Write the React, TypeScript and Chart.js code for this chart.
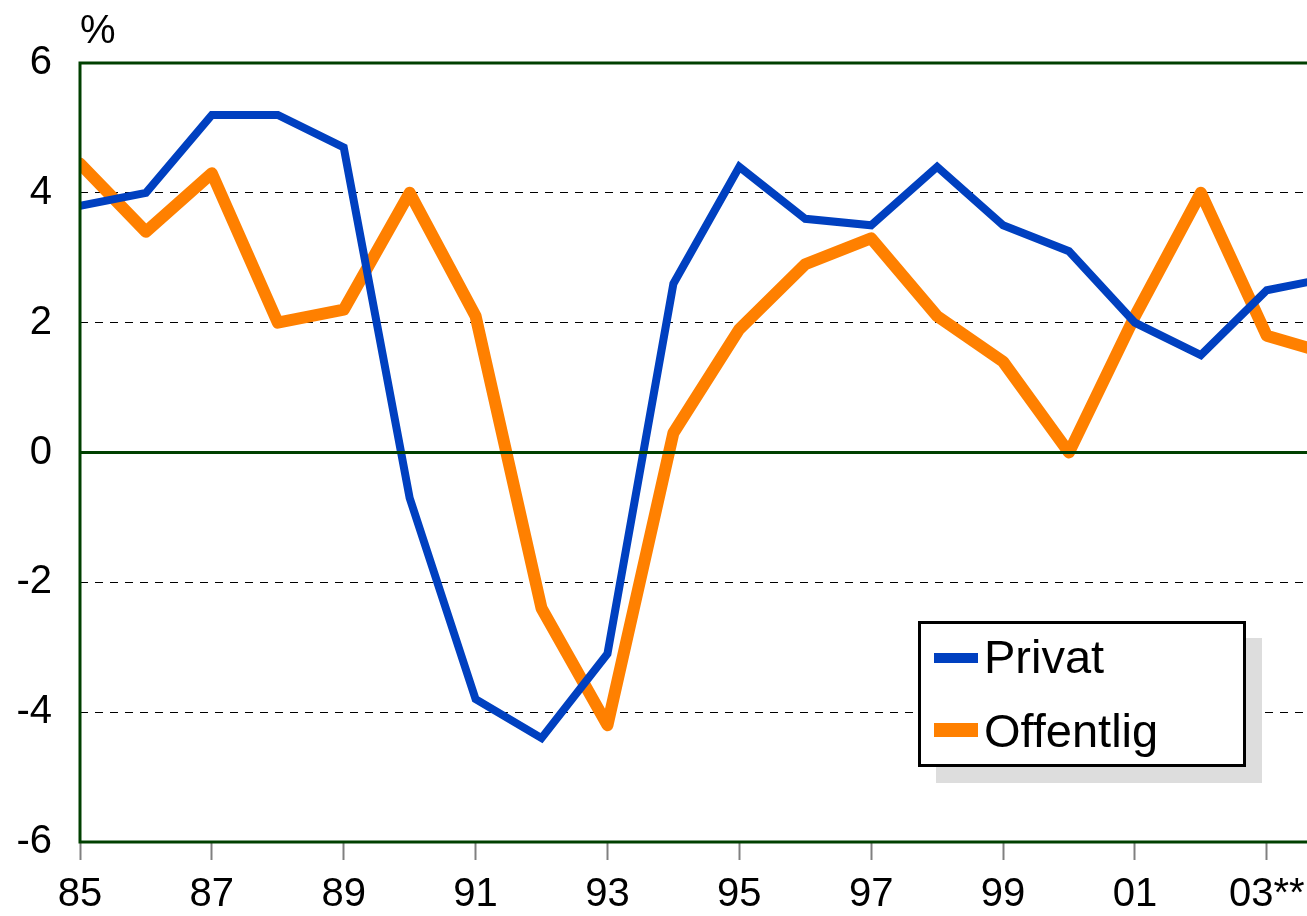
import React, { useEffect, useRef } from 'react';
import { Chart, registerables } from 'chart.js';

Chart.register(...registerables);

const years = [1985, 1986, 1987, 1988, 1989, 1990, 1991, 1992, 1993, 1994, 1995, 1996, 1997, 1998, 1999, 2000, 2001, 2002, 2003, 2004];
const privat = [3.8, 4.0, 5.2, 5.2, 4.7, -0.7, -3.8, -4.4, -3.1, 2.6, 4.4, 3.6, 3.5, 4.4, 3.5, 3.1, 2.0, 1.5, 2.5, 2.7];
const offentlig = [4.45, 3.4, 4.3, 2.0, 2.2, 4.0, 2.1, -2.4, -4.2, 0.3, 1.9, 2.9, 3.3, 2.1, 1.4, 0.0, 2.1, 4.0, 1.8, 1.5];
const seriesNames = ['Privat', 'Offentlig'];
const xTickYears = [1985, 1987, 1989, 1991, 1993, 1995, 1997, 1999, 2001, 2003];
const xTickLabels = ['85', '87', '89', '91', '93', '95', '97', '99', '01', '03**'];
const yTickLabels = ['-6', '-4', '-2', '0', '2', '4', '6'];
const unitLabel = '%';

const FONT = '"Liberation Sans", Arial, Helvetica, sans-serif';
const GREEN = '#004000';
const BLUE = '#0040c0';
const ORANGE = '#ff8000';

export default function App() {
  const ref = useRef<HTMLCanvasElement>(null);

  useEffect(() => {
    document.body.style.margin = '0';
    const canvas = ref.current;
    if (!canvas) return;

    const framePlugin = {
      id: 'frame',
      afterDatasetsDraw(chart: any) {
        const { ctx, chartArea: a, scales } = chart;
        const y0 = scales.y.getPixelForValue(0);
        ctx.save();
        ctx.strokeStyle = GREEN;
        ctx.lineWidth = 3;
        ctx.lineCap = 'square';
        ctx.beginPath();
        ctx.moveTo(a.right + 5, a.top);
        ctx.lineTo(a.left, a.top);
        ctx.lineTo(a.left, a.bottom);
        ctx.lineTo(a.right + 5, a.bottom);
        ctx.moveTo(a.left, y0);
        ctx.lineTo(a.right + 5, y0);
        ctx.stroke();
        ctx.restore();
      },
    };

    const legendPlugin = {
      id: 'boxLegend',
      afterDraw(chart: any) {
        const { ctx } = chart;
        ctx.save();
        // unit label
        ctx.fillStyle = '#000';
        ctx.font = `40px ${FONT}`;
        ctx.textBaseline = 'alphabetic';
        ctx.textAlign = 'left';
        ctx.fillText(unitLabel, 80, 43);
        // legend shadow + box
        ctx.fillStyle = '#dddddd';
        ctx.fillRect(936, 638, 326, 145);
        ctx.fillStyle = '#ffffff';
        ctx.fillRect(919, 622, 326, 144);
        ctx.strokeStyle = '#000';
        ctx.lineWidth = 3;
        ctx.strokeRect(919.5, 622.5, 325, 143);
        const rows = [
          { y: 658, w: 10, ty: 673 },
          { y: 730, w: 14, ty: 747 },
        ];
        chart.data.datasets.forEach((ds: any, i: number) => {
          const r = rows[i];
          ctx.strokeStyle = ds.borderColor;
          ctx.lineWidth = r.w;
          ctx.lineCap = 'butt';
          ctx.beginPath();
          ctx.moveTo(934, r.y);
          ctx.lineTo(978, r.y);
          ctx.stroke();
          ctx.fillStyle = '#000';
          ctx.font = `47px ${FONT}`;
          ctx.fillText(ds.label, 984, r.ty);
        });
        ctx.restore();
      },
    };

    const chart = new Chart(canvas, {
      type: 'line',
      data: {
        datasets: [
          {
            label: seriesNames[0],
            data: years.map((yr, i) => ({ x: yr, y: privat[i] })),
            borderColor: BLUE,
            backgroundColor: BLUE,
            borderWidth: 8,
            borderJoinStyle: 'miter',
            pointRadius: 0,
            tension: 0,
          },
          {
            label: seriesNames[1],
            data: years.map((yr, i) => ({ x: yr, y: offentlig[i] })),
            borderColor: ORANGE,
            backgroundColor: ORANGE,
            borderWidth: 12,
            borderJoinStyle: 'round',
            borderCapStyle: 'round',
            pointRadius: 0,
            tension: 0,
          },
        ],
      },
      options: {
        responsive: false,
        animation: false,
        devicePixelRatio: 1,
        layout: { padding: { top: 63, left: 0, right: 0, bottom: 0 } },
        plugins: {
          legend: { display: false },
          tooltip: { enabled: false },
          title: { display: false },
        },
        scales: {
          x: {
            type: 'linear',
            min: 1985,
            max: 2003.61,
            afterBuildTicks: (s: any) => {
              s.ticks = xTickYears.map((v) => ({ value: v }));
            },
            afterFit: (s: any) => {
              s.height = 74;
              s.paddingLeft = 0;
              s.paddingRight = 0;
            },
            ticks: {
              autoSkip: false,
              maxRotation: 0,
              minRotation: 0,
              padding: 11,
              color: '#000',
              font: { family: FONT, size: 40 },
              callback: (_v: any, i: number) => xTickLabels[i] ?? '',
            },
            grid: {
              drawOnChartArea: false,
              drawTicks: true,
              tickLength: 18,
              tickColor: '#808080',
              tickWidth: 2,
            },
            border: { display: false },
          },
          y: {
            type: 'linear',
            min: -6,
            max: 6,
            afterFit: (s: any) => {
              s.width = 80;
              s.paddingTop = 0;
              s.paddingBottom = 0;
            },
            ticks: {
              stepSize: 2,
              padding: 28,
              color: '#000',
              font: { family: FONT, size: 40 },
              callback: (_v: any, i: number) => yTickLabels[i] ?? '',
            },
            grid: {
              drawTicks: false,
              lineWidth: 1,
              color: (c: any) => {
                const v = c.tick ? c.tick.value : 0;
                return v === 0 || Math.abs(v) === 6 ? 'rgba(0,0,0,0)' : '#000000';
              },
            },
            border: { display: false, dash: [8, 7] },
          },
        },
      } as any,
      plugins: [framePlugin, legendPlugin],
    });

    return () => chart.destroy();
  }, []);

  return (
    <canvas
      ref={ref}
      width={1307}
      height={916}
      style={{ display: 'block', width: 1307, height: 916 }}
    />
  );
}
